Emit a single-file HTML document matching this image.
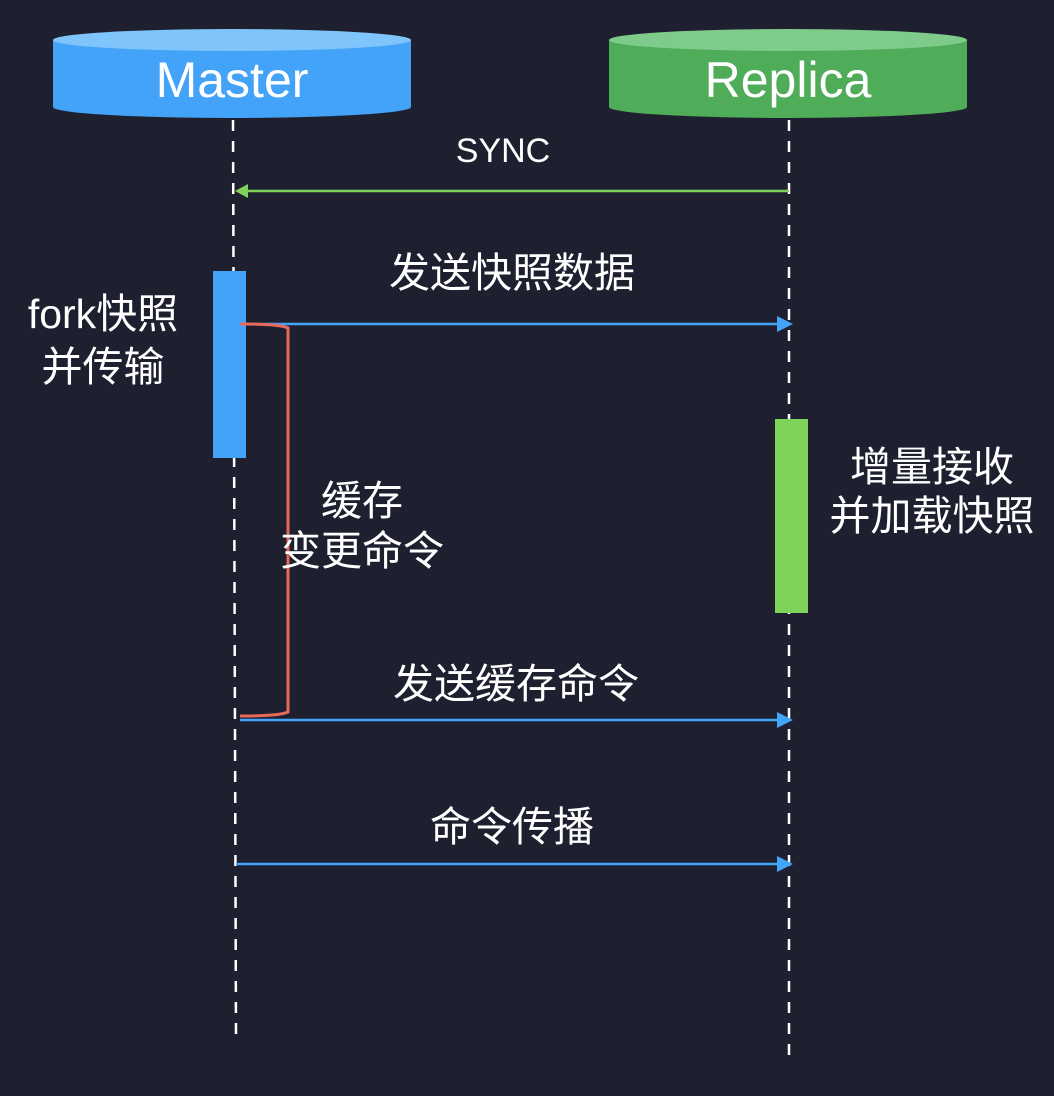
<!DOCTYPE html>
<html><head><meta charset="utf-8"><style>
html,body{margin:0;padding:0;background:#1e2030;}
svg{display:block}
text{font-family:"Liberation Sans","Noto Sans CJK SC",sans-serif;fill:#fff}
</style></head><body>
<svg width="1054" height="1096" viewBox="0 0 1054 1096" xmlns="http://www.w3.org/2000/svg">
<rect width="1054" height="1096" fill="#1e2030"/>
<line x1="233" y1="120" x2="236" y2="1038" stroke="#fff" stroke-width="2.5" stroke-dasharray="11 10"/>
<line x1="789" y1="120" x2="789" y2="1058" stroke="#fff" stroke-width="2.5" stroke-dasharray="11 10"/>
<path d="M53 40 L53 107 A179 11 0 0 0 411 107 L411 40 Z" fill="#43a3f8"/>
<ellipse cx="232" cy="40" rx="179" ry="11" fill="#7fc5fb"/>
<path d="M609 40 L609 107 A179 11 0 0 0 967 107 L967 40 Z" fill="#4fac58"/>
<ellipse cx="788" cy="40" rx="179" ry="11" fill="#7fcb8b"/>
<text x="232" y="97" font-size="50" text-anchor="middle">Master</text>
<text x="788" y="97" font-size="50" text-anchor="middle">Replica</text>
<rect x="213" y="271" width="33" height="187" fill="#43a3f8"/>
<rect x="775" y="419" width="33" height="194" fill="#7fd35a"/>
<line x1="789" y1="191" x2="246" y2="191" stroke="#7fd35a" stroke-width="2.5"/>
<polygon points="235,191 248,184 248,198" fill="#7fd35a"/>
<line x1="246" y1="324" x2="780" y2="324" stroke="#43a3f8" stroke-width="2.5"/>
<polygon points="793,324 777,316 777,332" fill="#43a3f8"/>
<line x1="240" y1="720" x2="780" y2="720" stroke="#43a3f8" stroke-width="2.5"/>
<polygon points="793,720 777,712 777,728" fill="#43a3f8"/>
<line x1="236" y1="864" x2="780" y2="864" stroke="#43a3f8" stroke-width="2.5"/>
<polygon points="793,864 777,856 777,872" fill="#43a3f8"/>
<path d="M240 324 Q280 324 288 328 L288 712 Q280 716 240 716" fill="none" stroke="#e8685a" stroke-width="3"/>
<text x="503" y="162" font-size="34" text-anchor="middle">SYNC</text>
<text x="512" y="287" font-size="41" text-anchor="middle">发送快照数据</text>
<text x="103" y="328" font-size="41" text-anchor="middle">fork快照</text>
<text x="103" y="381" font-size="41" text-anchor="middle">并传输</text>
<text x="932" y="481" font-size="41" text-anchor="middle">增量接收</text>
<text x="932" y="530" font-size="41" text-anchor="middle">并加载快照</text>
<text x="362" y="515" font-size="41" text-anchor="middle">缓存</text>
<text x="362" y="565" font-size="41" text-anchor="middle">变更命令</text>
<text x="516" y="698" font-size="41" text-anchor="middle">发送缓存命令</text>
<text x="512" y="841" font-size="41" text-anchor="middle">命令传播</text>
</svg>
</body></html>
